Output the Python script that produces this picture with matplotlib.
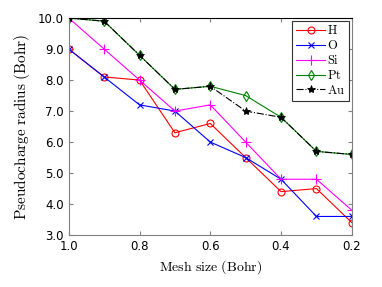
import numpy as np
import matplotlib
matplotlib.use("Agg")
import matplotlib.pyplot as plt

plt.rcParams['mathtext.fontset'] = 'cm'

mesh = [1.0, 0.9, 0.8, 0.7, 0.6, 0.5, 0.4, 0.3, 0.2]
h_rad = [9.0, 8.1, 8.0, 6.3, 6.6, 5.5, 4.4, 4.5, 3.4]
o_rad = [9.0, 8.1, 7.2, 7.0, 6.0, 5.5, 4.8, 3.6, 3.6]
si_rad = [10.0, 9.0, 8.0, 7.0, 7.2, 6.0, 4.8, 4.8, 3.8]
pt_rad = [10.0, 9.9, 8.8, 7.7, 7.8, 7.5, 6.8, 5.7, 5.6]
au_rad = [10.0, 9.9, 8.8, 7.7, 7.8, 7.0, 6.8, 5.7, 5.6]

fig = plt.figure(figsize=(3.82, 2.87), dpi=100)
ax = fig.add_axes([0.18, 0.181, 0.741, 0.756])

ax.plot(mesh, h_rad, color='red', lw=0.8, marker='o', ms=5, mfc='none', mew=0.8, label=r'$\mathrm{H}$')
ax.plot(mesh, o_rad, color='blue', lw=0.8, marker='x', ms=5, mew=0.8, label=r'$\mathrm{O}$')
ax.plot(mesh, si_rad, color='magenta', lw=0.8, marker='+', ms=7, mew=0.8, label=r'$\mathrm{Si}$')
ax.plot(mesh, pt_rad, color='green', lw=0.8, marker='d', ms=5, mfc='none', mew=0.8, label=r'$\mathrm{Pt}$')
ax.plot(mesh, au_rad, color='black', lw=0.8, ls='-.', marker='*', ms=6, mew=0.6, label=r'$\mathrm{Au}$')

ax.set_xlim(1.0, 0.2)
ax.set_ylim(3.0, 10.0)
ax.set_xticks([1.0, 0.8, 0.6, 0.4, 0.2])
ax.set_xticklabels(['1.0', '0.8', '0.6', '0.4', '0.2'])
ax.set_yticks(np.arange(3, 11))
ax.set_yticklabels(['%.1f' % v for v in np.arange(3, 11)])
ax.tick_params(direction='in', labelsize=8.5, length=3, top=True, right=True, color='#808080')
for s in ['bottom', 'left', 'right']:
    ax.spines[s].set_color('#808080')
ax.spines['top'].set_color('black')

ax.set_xlabel(r'$\mathrm{Mesh\ size\ (Bohr)}$', fontsize=10)
ax.set_ylabel(r'$\mathrm{Pseudocharge\ radius\ (Bohr)}$', fontsize=11)

leg = ax.legend(loc='upper right', fontsize=9, fancybox=False, framealpha=1,
                edgecolor='#333333', borderpad=0.3, labelspacing=0.15, handlelength=2.3,
                handletextpad=0.2, borderaxespad=0.2)
leg.get_frame().set_linewidth(0.8)

fig.savefig('out.png', dpi=100)
